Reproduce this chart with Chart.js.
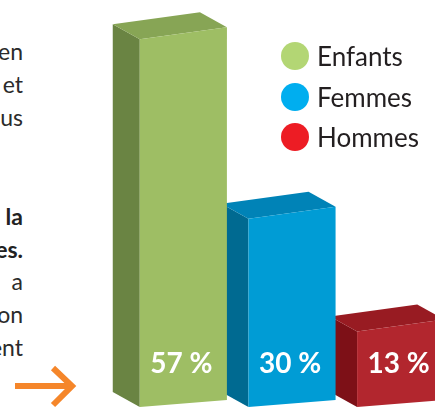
<!DOCTYPE html>
<html>
<head>
<meta charset="utf-8">
<script src="https://cdn.jsdelivr.net/npm/chart.js@4/dist/chart.umd.min.js"></script>
<style>
  html, body { margin: 0; padding: 0; background: #fff; }
  body { width: 435px; height: 408px; overflow: hidden; position: relative; font-family: Lato, "Open Sans", sans-serif; }
  #wrap { position: absolute; left: 0; top: 0; width: 455px; height: 412px; }
  .txt { position: absolute; right: 412px; font-size: 23px; color: #2b2b2b; white-space: nowrap; line-height: 1; }
  .txt.b { font-weight: bold; color: #222; }
  #legend { position: absolute; left: 281px; top: 42px; }
  .lg { position: absolute; left: 0; display: flex; align-items: center; white-space: nowrap; }
  .lg i { display: block; width: 28px; height: 28px; border-radius: 50%; margin-right: 8px; }
  .lg span { font-size: 26px; color: #231f20; line-height: 28px; }
  #arrow { position: absolute; left: 0; top: 355px; }
</style>
</head>
<body>
<div class="txt" style="top:40px">en</div>
<div class="txt" style="top:73px">et</div>
<div class="txt" style="top:106px">us</div>
<div class="txt b" style="top:205px">la</div>
<div class="txt b" style="top:238px">es.</div>
<div class="txt" style="top:270px">a</div>
<div class="txt" style="top:303px">on</div>
<div class="txt" style="top:336px">ent</div>
<svg id="arrow" width="90" height="53">
  <line x1="15" y1="31" x2="72" y2="31" stroke="#F5862A" stroke-width="6"/>
  <polyline points="53,13 72,31 53,50" fill="none" stroke="#F5862A" stroke-width="6"/>
</svg>
<div id="wrap"><canvas id="c" width="455" height="412"></canvas></div>
<div id="legend"></div>
<script>
// données
var categories = ['Enfants', 'Femmes', 'Hommes'];
var values = [57, 30, 13];
var valueLabels = ['57 %', '30 %', '13 %'];

var frontColors = ['#9EBE64', '#009CD5', '#B2262E'];
var sideColors = ['#6A8443', '#006A91', '#7D1017'];
var topColors = ['#87A555', '#0083B7', '#981B22'];
var legendColors = ['#B3D674', '#00AEEF', '#ED1C24'];

// légende html
var legend = document.getElementById('legend');
categories.forEach(function (name, i) {
  var row = document.createElement('div');
  row.className = 'lg';
  row.style.top = (i * 40.5) + 'px';
  row.innerHTML = '<i style="background:' + legendColors[i] + '"></i><span>' + name + '</span>';
  legend.appendChild(row);
});

function poly(ctx, pts, color) {
  ctx.beginPath();
  ctx.moveTo(pts[0][0], pts[0][1]);
  for (var k = 1; k < pts.length; k++) ctx.lineTo(pts[k][0], pts[k][1]);
  ctx.closePath();
  ctx.fillStyle = color;
  ctx.fill();
}

// barres en 3D
var box3d = {
  id: 'box3d',
  beforeDatasetsDraw: function (chart) {
    var ctx = chart.ctx;
    var bars = chart.getDatasetMeta(0).data;
    var dx = -27, dy = -15;
    ctx.save();
    for (var i = bars.length - 1; i >= 0; i--) {
      var p = bars[i].getProps(['x', 'y', 'base', 'width'], true);
      var xL = p.x - p.width / 2, xR = p.x + p.width / 2;
      var tL = p.y + 6, tR = p.y - 6;
      var bL = p.base - 5, bR = p.base - 12;
      poly(ctx, [[xL, tL], [xL + dx, tL + dy], [xL + dx, bL + dy], [xL, bL]], sideColors[i]);
      poly(ctx, [[xL, tL], [xR, tR], [xR + dx, tR + dy], [xL + dx, tL + dy]], topColors[i]);
      poly(ctx, [[xL, tL], [xR, tR], [xR, bR], [xL, bL]], frontColors[i]);
      ctx.fillStyle = '#fff';
      ctx.font = 'bold 28px Lato';
      ctx.textAlign = 'center';
      ctx.textBaseline = 'middle';
      ctx.fillText(valueLabels[i], p.x - 2, 364);
    }
    ctx.restore();
    return false;
  }
};

new Chart(document.getElementById('c'), {
  type: 'bar',
  data: {
    labels: categories,
    datasets: [{ data: values, backgroundColor: frontColors, borderWidth: 0 }]
  },
  options: {
    responsive: false,
    animation: false,
    layout: { padding: { left: 129, right: 0, top: 0, bottom: 0 } },
    plugins: { legend: { display: false }, tooltip: { enabled: false } },
    datasets: { bar: { barPercentage: 1, categoryPercentage: 0.802 } },
    scales: {
      x: { display: false },
      y: { display: false, min: 0, max: 62 }
    }
  },
  plugins: [box3d]
});
</script>
</body>
</html>
